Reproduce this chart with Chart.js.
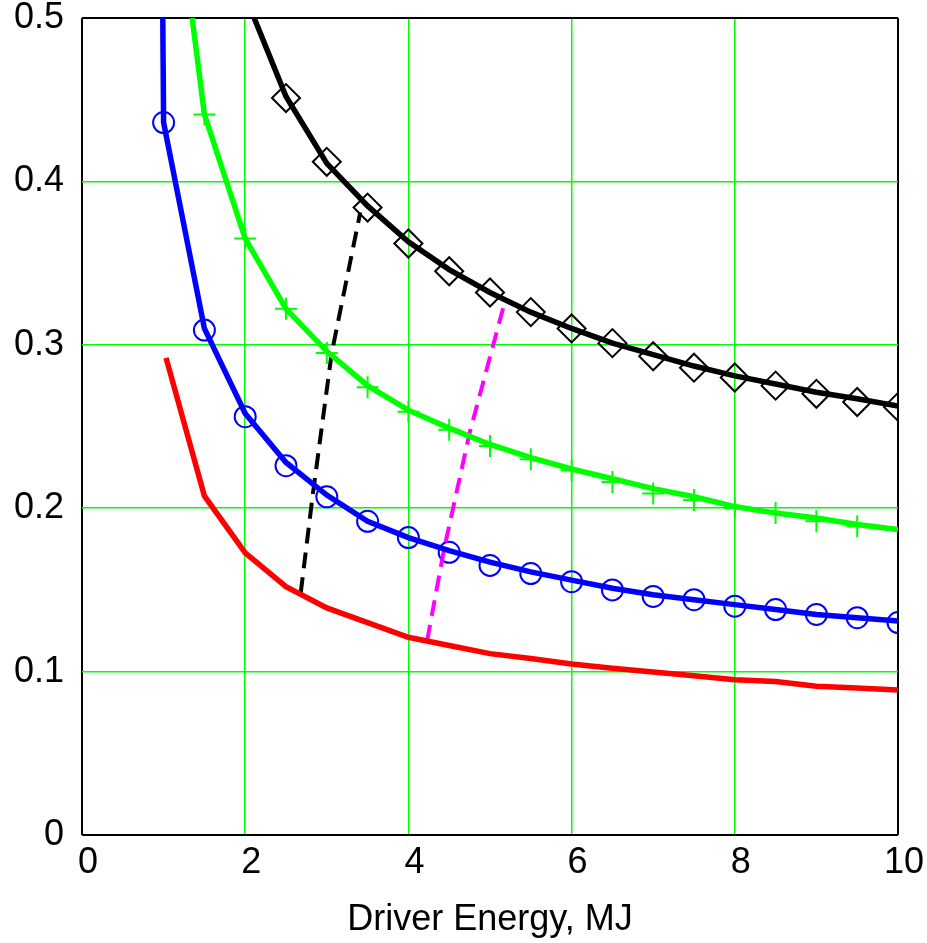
<!DOCTYPE html>
<html>
<head>
<meta charset="utf-8">
<script src="https://cdn.jsdelivr.net/npm/chart.js@4"></script>
<style>
  body { margin: 0; background: #fff; }
  #wrap { width: 927px; height: 943px; }
</style>
</head>
<body>
<div id="wrap"><canvas id="chart"></canvas></div>
<script>
// data
const markX = [1, 1.5, 2, 2.5, 3, 3.5, 4, 4.5, 5, 5.5, 6, 6.5, 7, 7.5, 8, 8.5, 9, 9.5, 10];

const blueLineX = [0.99, 1, 1.5, 2, 2.5, 3, 3.5, 4, 4.5, 5, 5.5, 6, 6.5, 7, 7.5, 8, 8.5, 9, 9.5, 10];
const blueLineY = [0.5, 0.436, 0.31, 0.258, 0.228, 0.208, 0.192, 0.182, 0.174, 0.167, 0.161, 0.156, 0.151, 0.147, 0.144, 0.141, 0.138, 0.135, 0.133, 0.131];
const blueMarks = [0.436, 0.309, 0.256, 0.226, 0.207, 0.192, 0.182, 0.173, 0.165, 0.160, 0.155, 0.150, 0.146, 0.144, 0.140, 0.138, 0.135, 0.133, 0.130];

const greenLineX = [1.35, 1.5, 2, 2.5, 3, 3.5, 4, 4.5, 5, 5.5, 6, 6.5, 7, 7.5, 8, 8.5, 9, 9.5, 10];
const greenLineY = [0.5, 0.441, 0.365, 0.322, 0.296, 0.275, 0.26, 0.249, 0.239, 0.231, 0.224, 0.218, 0.212, 0.207, 0.201, 0.197, 0.194, 0.19, 0.187];
const greenMarks = [null, 0.441, 0.365, 0.322, 0.295, 0.274, 0.259, 0.248, 0.238, 0.230, 0.223, 0.216, 0.209, 0.205, 0.200, 0.197, 0.192, 0.189, null];

const blackLineX = [2.11, 2.5, 3, 3.5, 4, 4.5, 5, 5.5, 6, 6.5, 7, 7.5, 8, 8.5, 9, 9.5, 10];
const blackLineY = [0.5, 0.452, 0.411, 0.385, 0.363, 0.346, 0.332, 0.32, 0.31, 0.301, 0.294, 0.287, 0.281, 0.276, 0.271, 0.267, 0.2625];
const blackMarks = [null, null, null, 0.451, 0.412, 0.384, 0.362, 0.345, 0.332, 0.320, 0.310, 0.301, 0.293, 0.286, 0.280, 0.275, 0.270, 0.265, 0.262];

const redLineX = [1.03, 1.5, 2, 2.5, 3, 3.5, 4, 4.5, 5, 5.5, 6, 6.5, 7, 7.5, 8, 8.5, 9, 9.5, 10];
const redLineY = [0.292, 0.2075, 0.1726, 0.152, 0.139, 0.130, 0.121, 0.116, 0.111, 0.108, 0.1046, 0.102, 0.0998, 0.0975, 0.095, 0.094, 0.091, 0.090, 0.0887];

const blackDashX = [2.68, 2.83, 3.06, 3.41];
const blackDashY = [0.148, 0.209, 0.295, 0.381];
const magentaDashX = [4.23, 4.44, 4.75, 5.18];
const magentaDashY = [0.119, 0.1756, 0.246, 0.326];

const xTicks = [0, 2, 4, 6, 8, 10];
const yTicks = [0, 0.1, 0.2, 0.3, 0.4, 0.5];

const pts = (xs, ys) => xs.map((x, i) => ({x: x, y: ys[i]})).filter(p => p.y !== null);

const FAMILY = '"Liberation Sans", Arial, sans-serif';

function lineSet(xs, ys, color, width, dash) {
  return {
    type: 'line',
    data: pts(xs, ys),
    borderColor: color,
    borderWidth: width,
    borderDash: dash || [],
    pointRadius: 0,
    fill: false,
    tension: 0,
    clip: 0
  };
}

function markSet(ys, color, style, radius) {
  return {
    type: 'scatter',
    data: pts(markX, ys),
    showLine: false,
    pointStyle: style,
    pointRadius: radius,
    pointBorderWidth: 2,
    pointBorderColor: color,
    pointBackgroundColor: 'rgba(0,0,0,0)',
    clip: 0
  };
}

// grid: green inside, black frame at the limits
const atEdge = (c) => c.tick && (c.tick.value === c.scale.min || c.tick.value === c.scale.max);
const gridColor = (c) => atEdge(c) ? '#000' : '#00ff00';
const gridWidth = (c) => atEdge(c) ? 2 : 1.5;

const ctx = document.getElementById('chart');
new Chart(ctx, {
  data: {
    datasets: [
      lineSet(redLineX, redLineY, '#ff0000', 5.5),
      lineSet(blueLineX, blueLineY, '#0000ff', 5.5),
      lineSet(greenLineX, greenLineY, '#00ff00', 5.5),
      lineSet(blackLineX, blackLineY, '#000000', 5.5),
      lineSet(blackDashX, blackDashY, '#000000', 4, [16, 9]),
      lineSet(magentaDashX, magentaDashY, '#ff00ff', 4, [16, 9]),
      markSet(blueMarks, '#0000ff', 'circle', 10.5),
      markSet(greenMarks, '#00ff00', 'cross', 11),
      markSet(blackMarks, '#000000', 'rectRot', 14)
    ]
  },
  options: {
    responsive: true,
    maintainAspectRatio: false,
    animation: false,
    layout: {padding: {top: 18, right: 29, left: 0, bottom: 0}},
    plugins: {legend: {display: false}, tooltip: {enabled: false}},
    scales: {
      x: {
        type: 'linear',
        min: 0,
        max: 10,
        afterBuildTicks: (s) => { s.ticks = xTicks.map(v => ({value: v})); },
        afterFit: (s) => { s.height = 108; s.paddingLeft = 0; s.paddingRight = 0; },
        border: {display: false},
        grid: {color: gridColor, lineWidth: gridWidth, drawTicks: false},
        ticks: {font: {family: FAMILY, size: 36}, color: '#000', padding: 6, labelOffset: 6, maxRotation: 0},
        title: {display: true, text: 'Driver Energy, MJ', font: {family: FAMILY, size: 36}, color: '#000', padding: {top: 0, bottom: 1}}
      },
      y: {
        type: 'linear',
        min: 0,
        max: 0.5,
        afterBuildTicks: (s) => { s.ticks = yTicks.map(v => ({value: v})); },
        afterFit: (s) => { s.width = 82; s.paddingTop = 0; s.paddingBottom = 0; },
        border: {display: false},
        grid: {color: gridColor, lineWidth: gridWidth, drawTicks: false},
        ticks: {
          font: {family: FAMILY, size: 36},
          color: '#000',
          padding: 18,
          callback: (v) => v === 0 ? '0' : v.toFixed(1)
        }
      }
    }
  }
});
</script>
</body>
</html>
